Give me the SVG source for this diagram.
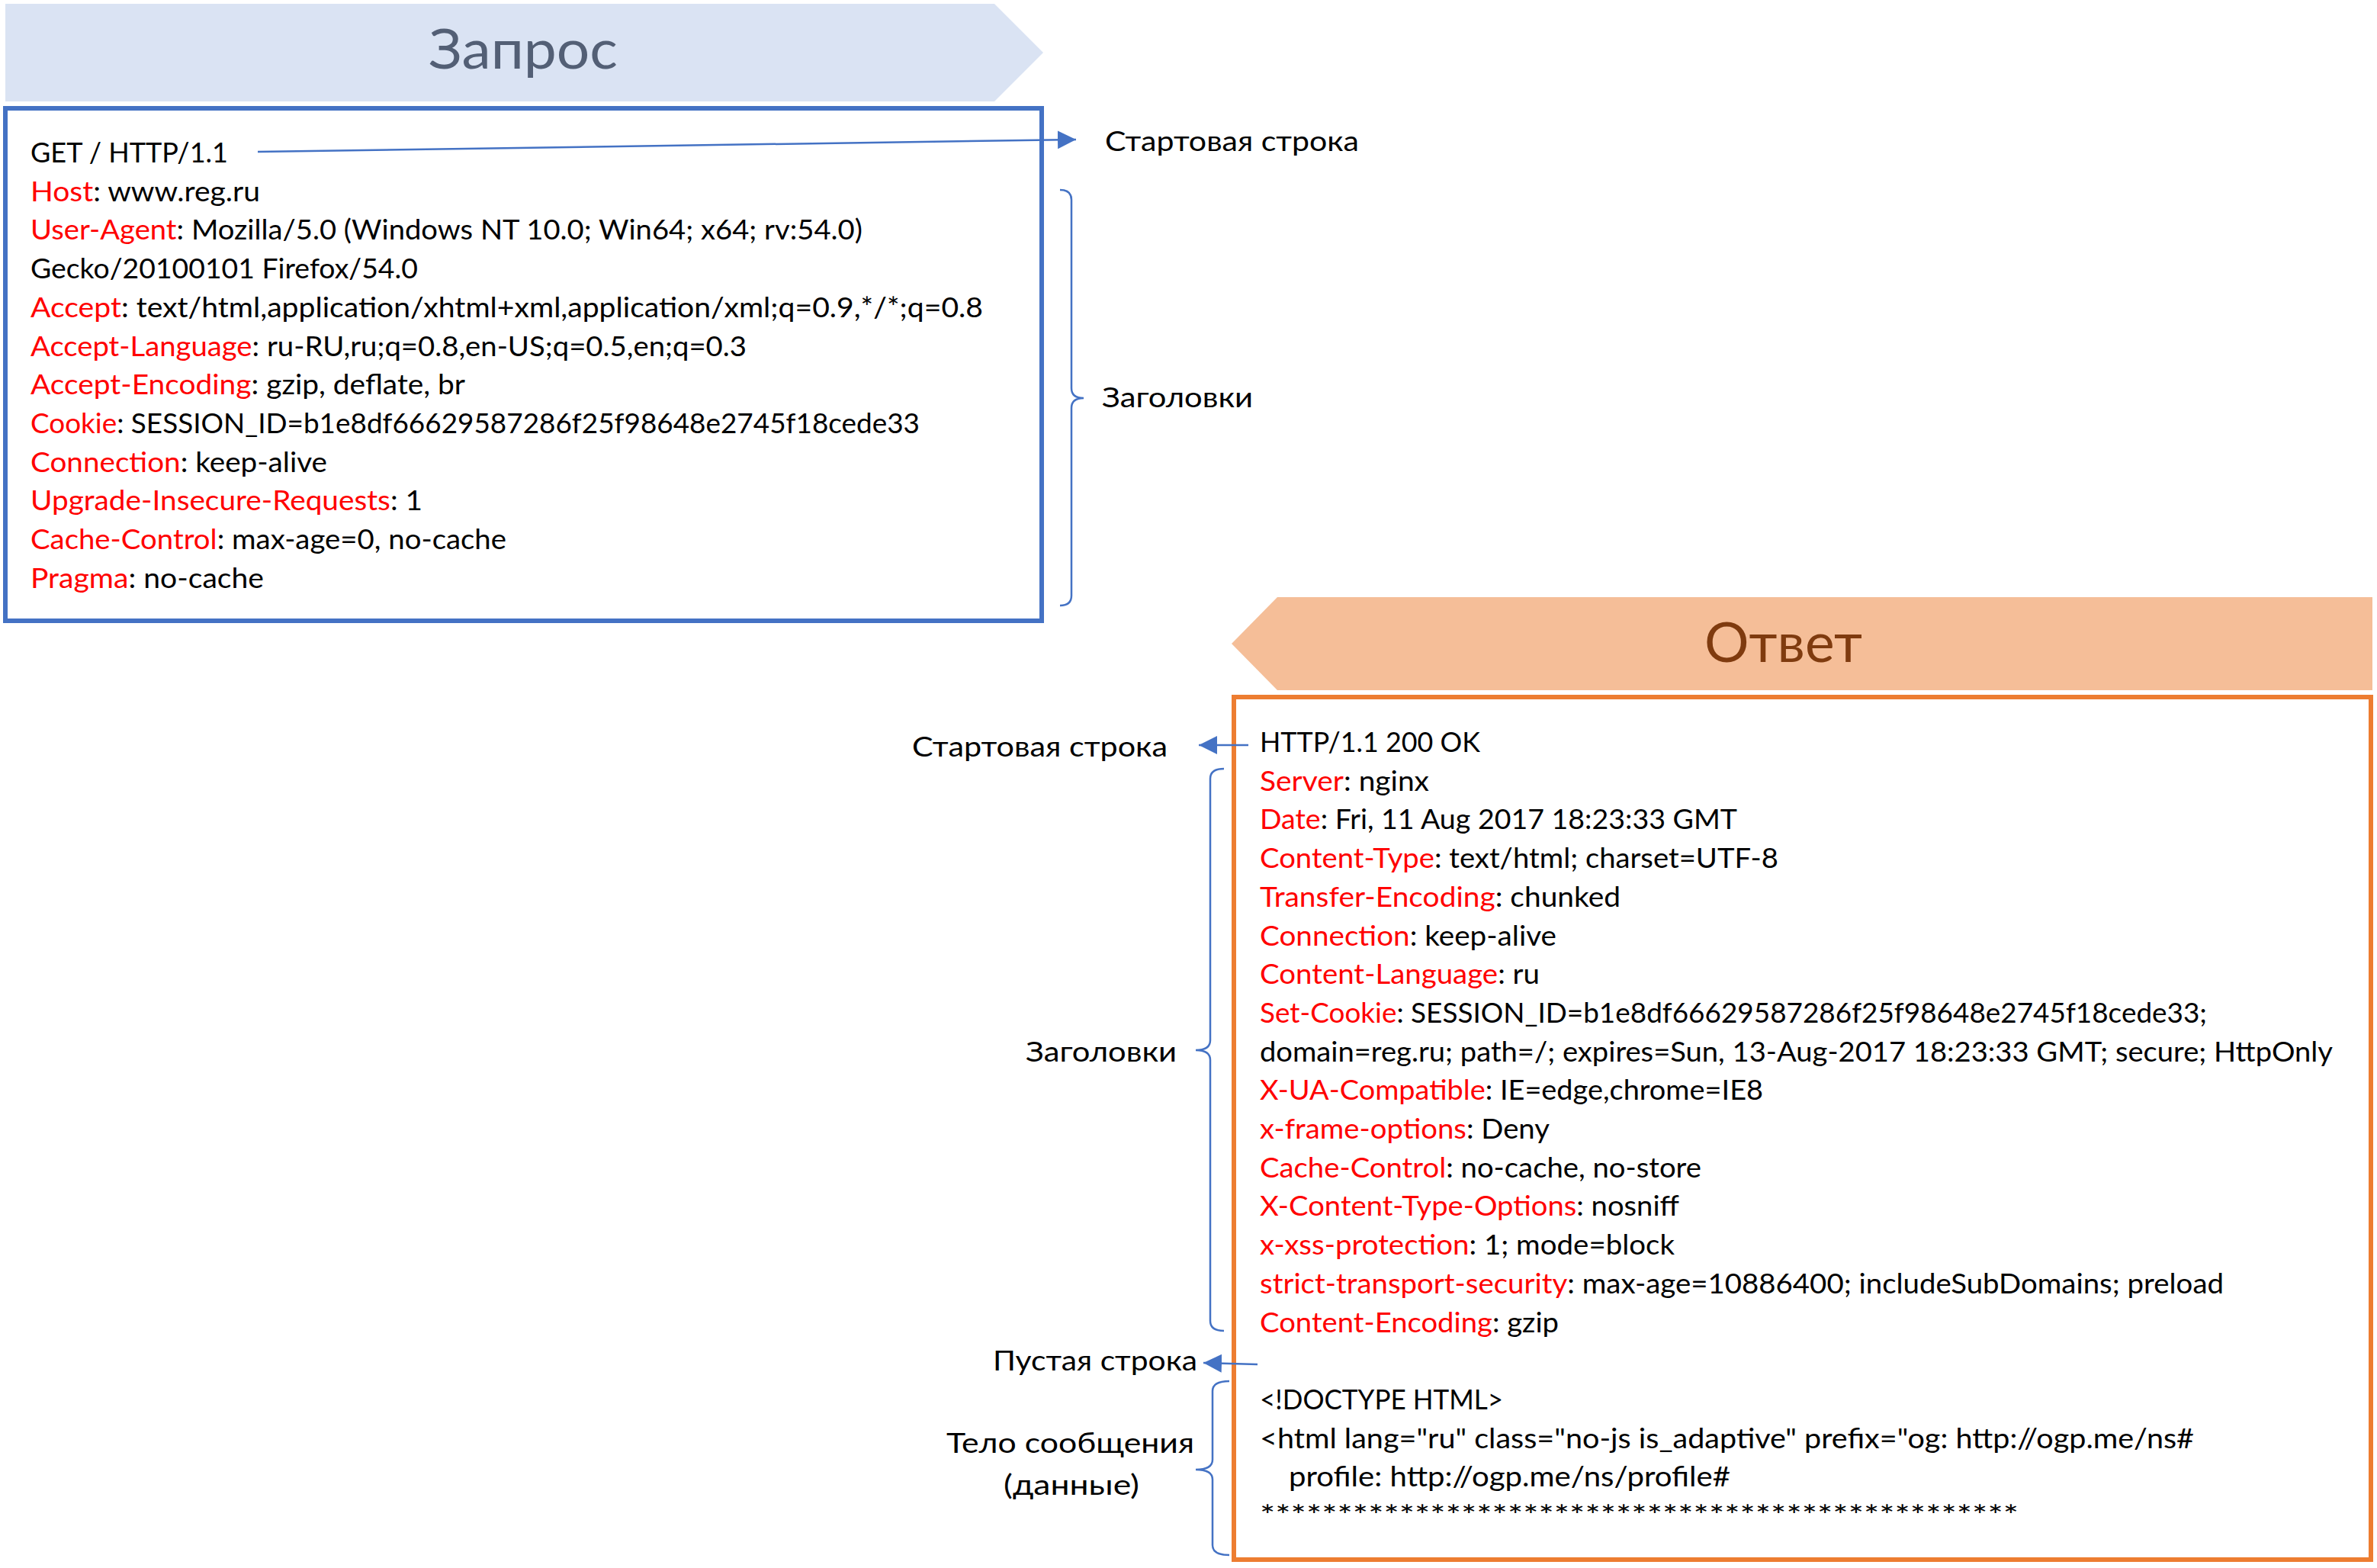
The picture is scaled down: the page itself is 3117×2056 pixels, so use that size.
<svg xmlns="http://www.w3.org/2000/svg" width="3117" height="2056" viewBox="0 0 3117 2056">
<style>
text{font-family:Lato,"Open Sans","Liberation Sans",sans-serif;font-size:37px;fill:#000}
.r{fill:#FF0000}
.title{font-size:72px;font-weight:400}
.conn{fill:none;stroke:#4472C4;stroke-width:2.5}
</style>
<defs>
<marker id="ah" markerUnits="userSpaceOnUse" markerWidth="26" markerHeight="26" refX="24" refY="12" orient="auto">
<path d="M0,0 L24,12 L0,24 z" fill="#4472C4"/>
</marker>
</defs>
<rect width="3117" height="2056" fill="#fff"/>

<g id="request-banner">
<polygon points="7,5 1304,5 1368,69 1304,133 7,133" fill="#DAE3F3"/>
<text class="title" x="562" y="90" textLength="248" lengthAdjust="spacingAndGlyphs" style="fill:#535F75">Запрос</text>
</g>

<g id="request-box">
<rect x="7" y="142" width="1359" height="672" fill="none" stroke="#4472C4" stroke-width="6"/>
<text x="40" y="213" textLength="259" lengthAdjust="spacingAndGlyphs">GET / HTTP/1.1</text>
<text x="40" y="263.7" textLength="301" lengthAdjust="spacingAndGlyphs"><tspan class="r">Host</tspan>: www.reg.ru</text>
<text x="40" y="314.4" textLength="1091" lengthAdjust="spacingAndGlyphs"><tspan class="r">User-Agent</tspan>: Mozilla/5.0 (Windows NT 10.0; Win64; x64; rv:54.0)</text>
<text x="40" y="365.1" textLength="508" lengthAdjust="spacingAndGlyphs">Gecko/20100101 Firefox/54.0</text>
<text x="40" y="415.8" textLength="1249" lengthAdjust="spacingAndGlyphs"><tspan class="r">Accept</tspan>: text/html,application/xhtml+xml,application/xml;q=0.9,*/*;q=0.8</text>
<text x="40" y="466.5" textLength="939" lengthAdjust="spacingAndGlyphs"><tspan class="r">Accept-Language</tspan>: ru-RU,ru;q=0.8,en-US;q=0.5,en;q=0.3</text>
<text x="40" y="517.2" textLength="570" lengthAdjust="spacingAndGlyphs"><tspan class="r">Accept-Encoding</tspan>: gzip, deflate, br</text>
<text x="40" y="567.9" textLength="1166" lengthAdjust="spacingAndGlyphs"><tspan class="r">Cookie</tspan>: SESSION_ID=b1e8df66629587286f25f98648e2745f18cede33</text>
<text x="40" y="618.6" textLength="389" lengthAdjust="spacingAndGlyphs"><tspan class="r">Connection</tspan>: keep-alive</text>
<text x="40" y="669.3" textLength="514" lengthAdjust="spacingAndGlyphs"><tspan class="r">Upgrade-Insecure-Requests</tspan>: 1</text>
<text x="40" y="720" textLength="624" lengthAdjust="spacingAndGlyphs"><tspan class="r">Cache-Control</tspan>: max-age=0, no-cache</text>
<text x="40" y="770.7" textLength="306" lengthAdjust="spacingAndGlyphs"><tspan class="r">Pragma</tspan>: no-cache</text>
</g>

<g id="request-start-label"><text x="1449" y="198" textLength="333" lengthAdjust="spacingAndGlyphs">Стартовая строка</text></g>
<g id="request-headers-label"><text x="1445" y="534" textLength="198" lengthAdjust="spacingAndGlyphs">Заголовки</text></g>

<g id="response-banner">
<polygon points="1615,844 1675,783 3111,783 3111,905 1675,905" fill="#F5BE98"/>
<text class="title" x="2235" y="868" textLength="207" lengthAdjust="spacingAndGlyphs" style="fill:#7F3B0F">Ответ</text>
</g>

<g id="response-box">
<rect x="1618" y="914" width="1491" height="1131" fill="none" stroke="#ED7D31" stroke-width="6"/>
<text x="1652" y="986" textLength="289" lengthAdjust="spacingAndGlyphs">HTTP/1.1 200 OK</text>
<text x="1652" y="1036.7" textLength="222" lengthAdjust="spacingAndGlyphs"><tspan class="r">Server</tspan>: nginx</text>
<text x="1652" y="1087.4" textLength="626" lengthAdjust="spacingAndGlyphs"><tspan class="r">Date</tspan>: Fri, 11 Aug 2017 18:23:33 GMT</text>
<text x="1652" y="1138" textLength="680" lengthAdjust="spacingAndGlyphs"><tspan class="r">Content-Type</tspan>: text/html; charset=UTF-8</text>
<text x="1652" y="1188.8" textLength="473" lengthAdjust="spacingAndGlyphs"><tspan class="r">Transfer-Encoding</tspan>: chunked</text>
<text x="1652" y="1239.5" textLength="389" lengthAdjust="spacingAndGlyphs"><tspan class="r">Connection</tspan>: keep-alive</text>
<text x="1652" y="1290.2" textLength="367" lengthAdjust="spacingAndGlyphs"><tspan class="r">Content-Language</tspan>: ru</text>
<text x="1652" y="1341" textLength="1242" lengthAdjust="spacingAndGlyphs"><tspan class="r">Set-Cookie</tspan>: SESSION_ID=b1e8df66629587286f25f98648e2745f18cede33;</text>
<text x="1652" y="1391.6" textLength="1407" lengthAdjust="spacingAndGlyphs">domain=reg.ru; path=/; expires=Sun, 13-Aug-2017 18:23:33 GMT; secure; HttpOnly</text>
<text x="1652" y="1442.3" textLength="660" lengthAdjust="spacingAndGlyphs"><tspan class="r">X-UA-Compatible</tspan>: IE=edge,chrome=IE8</text>
<text x="1652" y="1493" textLength="380" lengthAdjust="spacingAndGlyphs"><tspan class="r">x-frame-options</tspan>: Deny</text>
<text x="1652" y="1543.7" textLength="579" lengthAdjust="spacingAndGlyphs"><tspan class="r">Cache-Control</tspan>: no-cache, no-store</text>
<text x="1652" y="1594.4" textLength="550" lengthAdjust="spacingAndGlyphs"><tspan class="r">X-Content-Type-Options</tspan>: nosniff</text>
<text x="1652" y="1645.1" textLength="544" lengthAdjust="spacingAndGlyphs"><tspan class="r">x-xss-protection</tspan>: 1; mode=block</text>
<text x="1652" y="1695.8" textLength="1264" lengthAdjust="spacingAndGlyphs"><tspan class="r">strict-transport-security</tspan>: max-age=10886400; includeSubDomains; preload</text>
<text x="1652" y="1746.5" textLength="392" lengthAdjust="spacingAndGlyphs"><tspan class="r">Content-Encoding</tspan>: gzip</text>
<text x="1652" y="1848" textLength="319" lengthAdjust="spacingAndGlyphs">&lt;!DOCTYPE HTML&gt;</text>
<text x="1652" y="1898.6" textLength="1225" lengthAdjust="spacingAndGlyphs">&lt;html lang="ru" class="no-js is_adaptive" prefix="og: http://ogp.me/ns#</text>
<text x="1690" y="1949.2" textLength="579" lengthAdjust="spacingAndGlyphs">profile: http://ogp.me/ns/profile#</text>
<text x="1652" y="2000" textLength="995" lengthAdjust="spacingAndGlyphs">*************************************************</text>
</g>

<g id="response-start-label"><text x="1196" y="992" textLength="335" lengthAdjust="spacingAndGlyphs">Стартовая строка</text></g>
<g id="response-headers-label"><text x="1345" y="1392" textLength="198" lengthAdjust="spacingAndGlyphs">Заголовки</text></g>
<g id="empty-line-label"><text x="1302" y="1797" textLength="268" lengthAdjust="spacingAndGlyphs">Пустая строка</text></g>
<g id="body-label">
<text x="1241" y="1905" textLength="325" lengthAdjust="spacingAndGlyphs">Тело сообщения</text>
<text x="1316" y="1960" textLength="178" lengthAdjust="spacingAndGlyphs">(данные)</text>
</g>

<g id="connectors">
<line class="conn" x1="338" y1="199" x2="1411" y2="183" marker-end="url(#ah)"/>
<line class="conn" x1="1637" y1="977" x2="1572" y2="977" marker-end="url(#ah)"/>
<line class="conn" x1="1649" y1="1789" x2="1578" y2="1787" marker-end="url(#ah)"/>
<path class="conn" d="M1390,249 Q1405,249 1405,262 L1405,509 Q1405,522 1421,522 Q1405,522 1405,535 L1405,781 Q1405,794 1390,794"/>
<path class="conn" d="M1605,1008 Q1587,1008 1587,1021 L1587,1364 Q1587,1377 1568,1377 Q1587,1377 1587,1390 L1587,1732 Q1587,1745 1605,1745"/>
<path class="conn" d="M1612,1811 Q1590,1811 1590,1824 L1590,1914 Q1590,1927 1568,1927 Q1590,1927 1590,1940 L1590,2026 Q1590,2039 1612,2039"/>
</g>
</svg>
